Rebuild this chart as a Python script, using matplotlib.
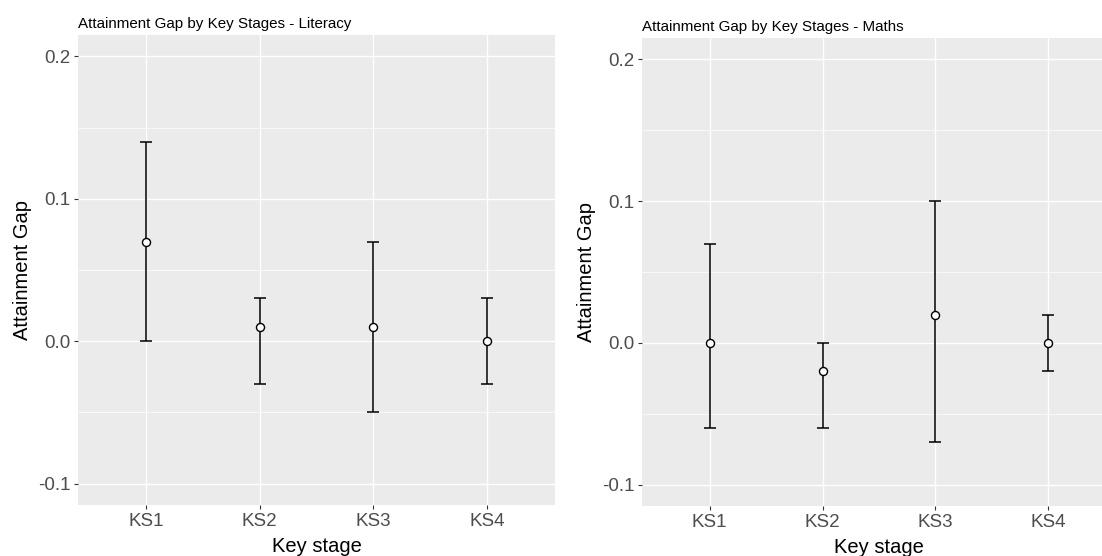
import matplotlib
matplotlib.use("Agg")
import matplotlib.pyplot as plt
from matplotlib.ticker import MultipleLocator

plt.rcParams['font.family'] = ['Liberation Sans', 'DejaVu Sans']

stages = ["KS1", "KS2", "KS3", "KS4"]

lit_mean = [0.07, 0.01, 0.01, 0.00]
lit_low = [0.00, -0.03, -0.05, -0.03]
lit_high = [0.14, 0.03, 0.07, 0.03]

math_mean = [0.00, -0.02, 0.02, 0.00]
math_low = [-0.06, -0.06, -0.07, -0.02]
math_high = [0.07, 0.00, 0.10, 0.02]

titles = ["Attainment Gap by Key Stages - Literacy", "Attainment Gap by Key Stages - Maths"]
yticks = [-0.1, 0.0, 0.1, 0.2]
ytick_labels = ["-0.1", "0.0", "0.1", "0.2"]

W, H = 1102, 556
fig = plt.figure(figsize=(W / 100, H / 100), dpi=100)
fig.patch.set_facecolor("white")

# panel pixel boxes: (left, top, right, bottom)
boxes = [(78, 35, 555, 505), (642, 38, 1116, 506)]
series = [(lit_mean, lit_low, lit_high), (math_mean, math_low, math_high)]

for (l, t, r, b), (m, lo, hi), title in zip(boxes, series, titles):
    ax = fig.add_axes([l / W, 1 - b / H, (r - l) / W, (b - t) / H])
    ax.set_facecolor("#EBEBEB")
    for s in ax.spines.values():
        s.set_visible(False)
    x = list(range(1, len(stages) + 1))
    yerr = [[mi - a for mi, a in zip(m, lo)], [c - mi for mi, c in zip(m, hi)]]
    ax.errorbar(x, m, yerr=yerr, fmt="none", ecolor="black", elinewidth=1.1,
                capsize=4.1, capthick=1.1, zorder=3)
    ax.plot(x, m, "o", markersize=5.8, markerfacecolor="white",
            markeredgecolor="black", markeredgewidth=1.0, zorder=4)
    ax.set_xlim(0.4, 4.6)
    ax.set_ylim(-0.115, 0.215)
    ax.set_xticks(x)
    ax.set_xticklabels(stages)
    ax.set_yticks(yticks)
    ax.set_yticklabels(ytick_labels)
    ax.yaxis.set_minor_locator(MultipleLocator(0.05))
    ax.grid(which="major", color="white", linewidth=1.0, zorder=0)
    ax.grid(which="minor", axis="y", color="white", linewidth=0.5, zorder=0)
    ax.set_axisbelow(True)
    ax.tick_params(which="major", length=3, width=0.8, color="#333333",
                   labelsize=13.5, labelcolor="#4D4D4D", pad=2.5)
    ax.tick_params(which="minor", length=0)
    ax.set_xlabel("Key stage", fontsize=14.5, color="black", labelpad=5)
    ax.set_ylabel("Attainment Gap", fontsize=14.5, color="black", labelpad=4)
    ax.set_title(title, loc="left", fontsize=10.9, color="black", pad=5)

fig.savefig("out.png", dpi=100, facecolor="white")
